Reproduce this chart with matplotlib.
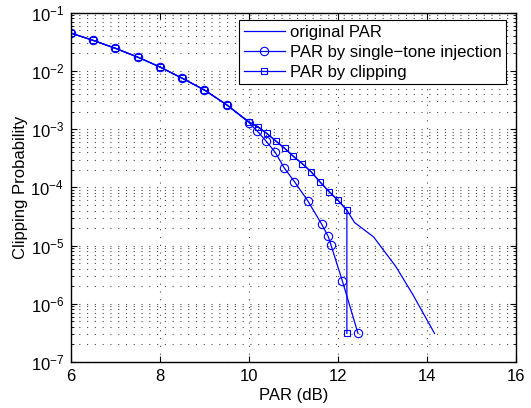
import matplotlib
matplotlib.use('Agg')
import matplotlib.pyplot as plt
import numpy as np
from matplotlib.ticker import NullFormatter

plt.rcParams['font.family'] = ['Liberation Sans', 'DejaVu Sans']
plt.rcParams['mathtext.fontset'] = 'custom'
plt.rcParams['mathtext.rm'] = 'Liberation Sans'
plt.rcParams['mathtext.it'] = 'Liberation Sans:italic'
plt.rcParams['mathtext.default'] = 'regular'

# original PAR (no markers)
par_orig = [6.0, 6.5, 7.0, 7.5, 8.0, 8.5, 9.0, 9.5, 10.0, 10.2, 10.4, 10.6, 10.8, 11.0,
            11.2, 11.4, 11.6, 11.8, 12.0, 12.2, 12.37, 12.8, 13.3, 13.68, 14.17]
p_orig = [0.0447, 0.0335, 0.0245, 0.0173, 0.0117, 0.0075, 0.0047, 0.00262, 0.00133,
          0.0011, 8.45e-4, 6.3e-4, 4.7e-4, 3.4e-4, 2.55e-4, 1.84e-4, 1.23e-4, 8.45e-5,
          6.0e-5, 4.07e-5, 2.5e-5, 1.41e-5, 4.37e-6, 1.45e-6, 3.1e-7]

# single-tone injection
par_sti = [6.0, 6.5, 7.0, 7.5, 8.0, 8.5, 9.0, 9.5, 10.0, 10.19, 10.38, 10.59, 10.79,
           11.02, 11.32, 11.63, 11.78, 11.84, 12.1, 12.45]
p_sti = [0.0447, 0.0335, 0.0245, 0.0173, 0.0117, 0.0075, 0.0047, 0.00262, 0.0013,
         9.2e-4, 6.3e-4, 4.0e-4, 2.17e-4, 1.26e-4, 5.9e-5, 2.36e-5, 1.44e-5, 1.04e-5,
         2.44e-6, 3.1e-7]

# clipping
par_clip = [6.0, 6.5, 7.0, 7.5, 8.0, 8.5, 9.0, 9.5, 10.0, 10.2, 10.4, 10.6, 10.8, 11.0,
            11.2, 11.4, 11.6, 11.8, 12.0, 12.2, 12.2]
p_clip = [0.0447, 0.0335, 0.0245, 0.0173, 0.0117, 0.0075, 0.0047, 0.00262, 0.00133,
          0.0011, 8.45e-4, 6.3e-4, 4.7e-4, 3.4e-4, 2.55e-4, 1.84e-4, 1.23e-4, 8.45e-5,
          6.0e-5, 4.07e-5, 3.1e-7]

x_ticks = [6, 8, 10, 12, 14, 16]
y_exps = [-7, -6, -5, -4, -3, -2, -1]

fig = plt.figure(figsize=(5.31, 4.08), dpi=100)
ax = fig.add_axes([0.1337, 0.1127, 0.838, 0.856])

ax.semilogy(par_orig, p_orig, '-', color='b', lw=0.9, label='original PAR')
ax.semilogy(par_sti, p_sti, '-o', color='b', lw=0.9, ms=6, mfc='none', mew=0.8,
            label='PAR by single\u2212tone injection')
ax.semilogy(par_clip, p_clip, '-s', color='b', lw=0.9, ms=5, mfc='none', mew=0.8,
            label='PAR by clipping')

ax.set_xlim(6, 16)
ax.set_ylim(1e-7, 1e-1)
ax.set_xticks(x_ticks)
ax.set_xticklabels([str(v) for v in x_ticks])
ax.set_yticks([10.0 ** e for e in y_exps])
ax.set_yticklabels(['$10^{%d}$' % e for e in y_exps])
minors = [m * 10.0 ** e for e in y_exps[:-1] for m in range(2, 10)]
ax.set_yticks(minors, minor=True)
ax.yaxis.set_minor_formatter(NullFormatter())
gkw = dict(linestyle=(0, (1, 6)), color='0.3', lw=0.8)
ax.grid(True, which='major', **gkw)
ax.grid(True, which='minor', axis='y', **gkw)
ax.tick_params(which='both', direction='in', top=True, right=True, labelsize=12, pad=5)
ax.tick_params(which='major', length=4)
ax.tick_params(which='minor', length=2)
for s in ax.spines.values():
    s.set_linewidth(1.0)

ax.set_xlabel('PAR (dB)', fontsize=12, labelpad=3)
ax.set_ylabel('Clipping Probability', fontsize=12, labelpad=2)

leg = ax.legend(loc='upper right', fontsize=12, fancybox=False, framealpha=1,
                edgecolor='k', bbox_to_anchor=(0.978, 0.978), borderaxespad=0,
                handlelength=2.5, borderpad=0.25, labelspacing=0.3, handletextpad=0.3)
leg.get_frame().set_linewidth(0.8)

fig.savefig('out.png', dpi=100)
